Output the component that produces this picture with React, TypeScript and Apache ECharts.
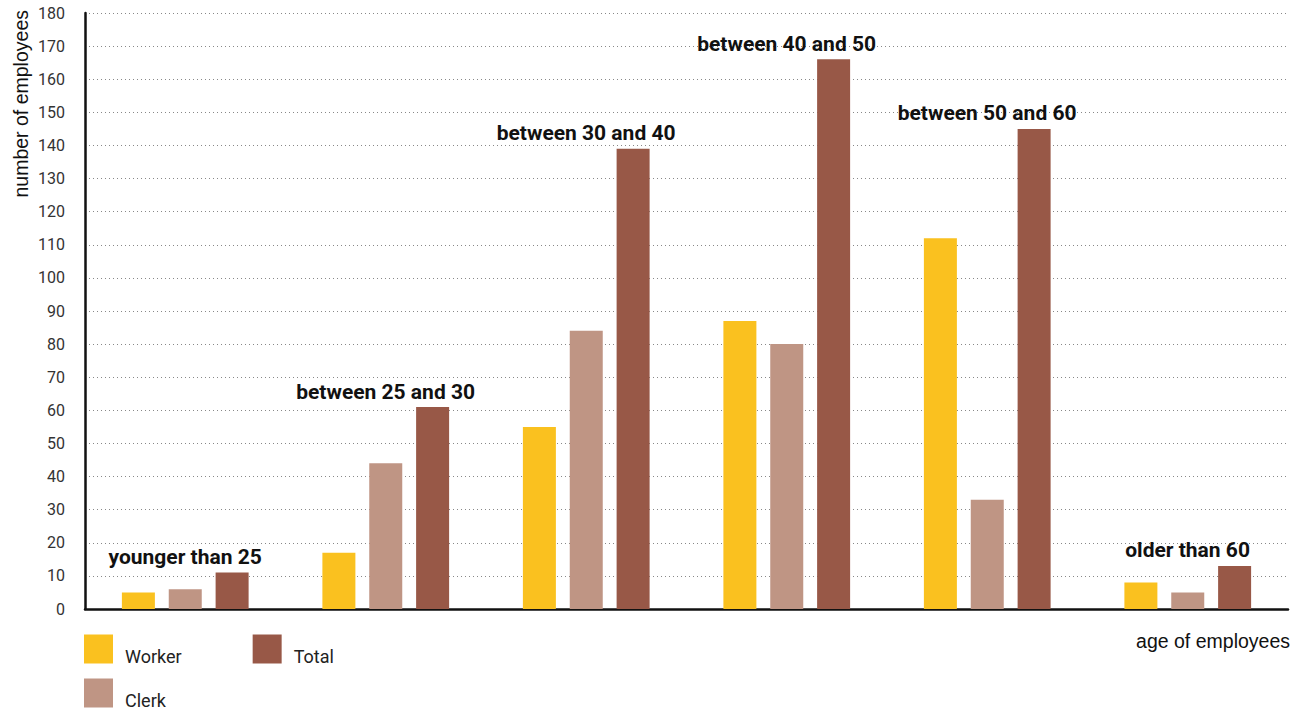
import React, { useEffect, useRef } from "react";
import * as echarts from "echarts";

const categories = [
  "younger than 25",
  "between 25 and 30",
  "between 30 and 40",
  "between 40 and 50",
  "between 50 and 60",
  "older than 60",
];
const worker = [5, 17, 55, 87, 112, 8];
const clerk = [6, 44, 84, 80, 33, 5];
const total = [11, 61, 139, 166, 145, 13];

const COND = "Roboto, 'DejaVu Sans Condensed', sans-serif";
const SANS = "'Liberation Sans', Arial, sans-serif";

export default function App() {
  const ref = useRef<HTMLDivElement>(null);
  useEffect(() => {
    if (!ref.current) return;
    const chart = echarts.init(ref.current, undefined, { renderer: "svg" });
    const legendText = { fontFamily: COND, fontSize: 18, color: "#222", lineHeight: 14, padding: [0, 0, 0, 7] };
    const fmt = (name: string) => "\n" + name;
    chart.setOption({
      animation: false,
      grid: { left: 85, right: 18, top: 13, bottom: 104, containLabel: false },
      legend: [
        {
          data: ["Worker", "Total"],
          left: 84,
          top: 633,
          padding: 0,
          orient: "horizontal",
          itemWidth: 29,
          itemHeight: 29,
          itemGap: 71,
          icon: "rect",
          formatter: fmt,
          textStyle: legendText,
        },
        {
          data: ["Clerk"],
          left: 84,
          top: 677,
          padding: 0,
          itemWidth: 29,
          itemHeight: 29,
          icon: "rect",
          formatter: fmt,
          textStyle: legendText,
        },
      ],
      xAxis: {
        type: "category",
        data: categories,
        axisLine: { show: true, lineStyle: { color: "#111", width: 2.5 } },
        axisTick: { show: false },
        axisLabel: { show: false },
        splitLine: { show: false },
      },
      yAxis: {
        type: "value",
        min: 0,
        max: 180,
        interval: 10,
        axisLine: { show: true, lineStyle: { color: "#111", width: 2.5 } },
        axisTick: { show: false },
        axisLabel: { fontFamily: COND, fontSize: 16, color: "#333", margin: 20 },
        splitLine: { show: true, lineStyle: { color: "#888", type: [1, 3], width: 1 } },
      },
      graphic: [
        {
          type: "text",
          x: 11,
          y: 10,
          rotation: Math.PI / 2,
          style: {
            text: "number of employees",
            fontFamily: SANS,
            fontSize: 19.5,
            fill: "#111",
            align: "right",
            verticalAlign: "top",
          },
        },
        {
          type: "text",
          x: 1290,
          y: 631,
          style: {
            text: "age of employees",
            fontFamily: SANS,
            fontSize: 19.5,
            fill: "#111",
            align: "right",
            verticalAlign: "top",
          },
        },
      ],
      series: [
        {
          name: "Worker",
          type: "bar",
          data: worker,
          barWidth: 33,
          barGap: "42%",
          itemStyle: { color: "#FAC11F" },
        },
        {
          name: "Clerk",
          type: "bar",
          data: clerk,
          barWidth: 33,
          barGap: "42%",
          itemStyle: { color: "#BF9584" },
        },
        {
          name: "Total",
          type: "bar",
          data: total,
          barWidth: 33,
          barGap: "42%",
          itemStyle: { color: "#985847" },
          label: {
            show: true,
            position: "top",
            distance: 5,
            offset: [-47, 0],
            formatter: (p: any) => categories[p.dataIndex],
            fontFamily: COND,
            fontWeight: "bold",
            fontSize: 21,
            color: "#111",
          },
        },
      ],
    });
    return () => chart.dispose();
  }, []);
  return (
    <div
      ref={ref}
      style={{ position: "absolute", left: 0, top: 0, width: 1306, height: 713, background: "#fff" }}
    />
  );
}
